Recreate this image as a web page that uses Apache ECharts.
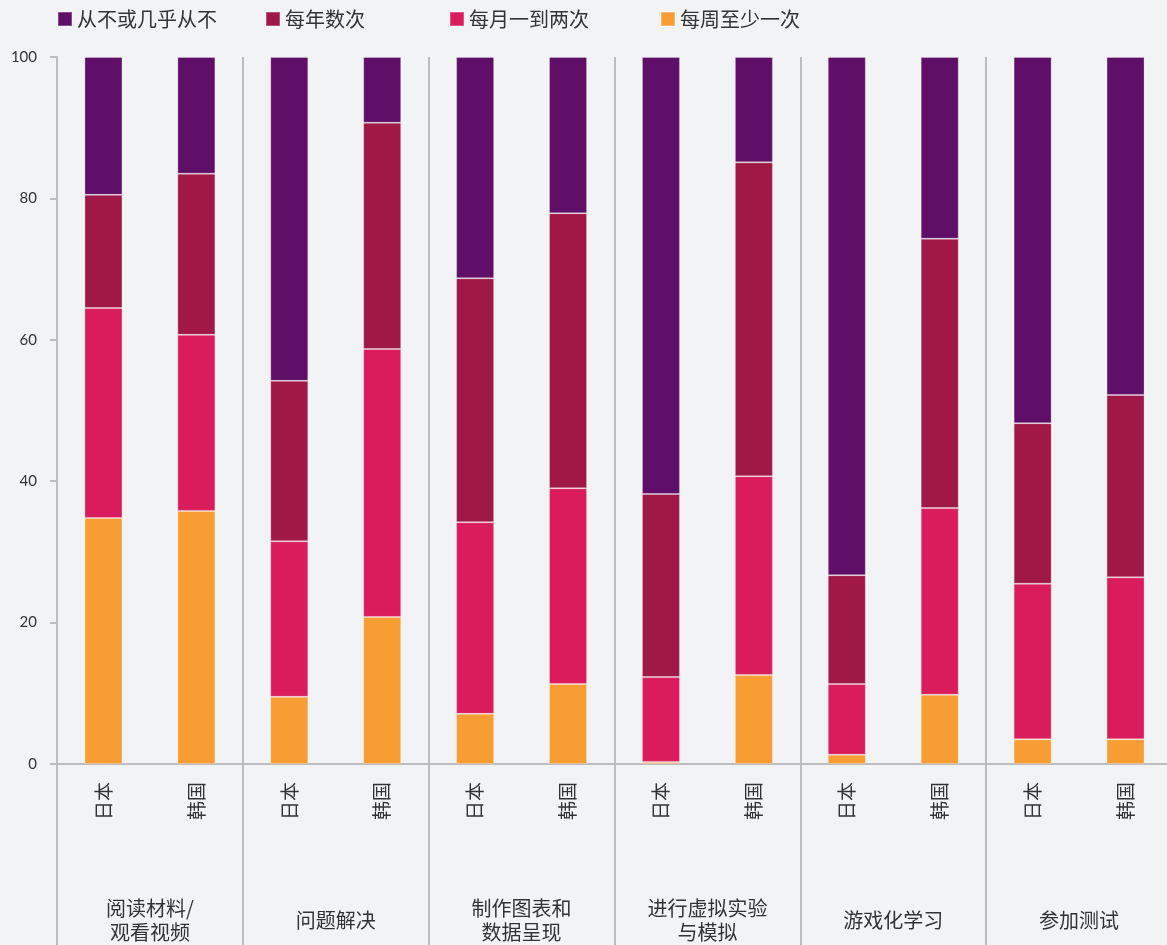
<!DOCTYPE html>
<html>
<head>
<meta charset="utf-8">
<script src="https://cdn.jsdelivr.net/npm/echarts@6/dist/echarts.min.js"></script>
<style>
html,body{margin:0;padding:0;background:#F2F3F5;overflow:hidden;width:1167px;height:945px;}
#chart{width:1175px;height:945px;}
</style>
</head>
<body>
<div id="chart"></div>
<script>
const groups = ['阅读材料/\n观看视频', '问题解决', '制作图表和\n数据呈现', '进行虚拟实验\n与模拟', '游戏化学习', '参加测试'];
const countries = ['日本', '韩国'];
const seriesNames = ['从不或几乎从不', '每年数次', '每月一到两次', '每周至少一次'];
// values per bar: group order, 日本 then 韩国
const weekly  = [34.8, 35.8, 9.5, 20.8, 7.1, 11.3, 0.3, 12.6, 1.3, 9.8, 3.5, 3.5];
const monthly = [29.7, 24.9, 22.0, 37.9, 27.1, 27.7, 12.0, 28.1, 10.0, 26.4, 22.0, 22.9];
const yearly  = [16.0, 22.8, 22.7, 32.0, 34.5, 38.9, 25.9, 44.4, 15.4, 38.1, 22.7, 25.8];
const never   = [19.5, 16.5, 45.8, 9.3, 31.3, 22.1, 61.8, 14.9, 73.3, 25.7, 51.8, 47.8];
const yTicks = [0, 20, 40, 60, 80, 100];

const colors = {
  '从不或几乎从不': '#5F0F67',
  '每年数次': '#A01846',
  '每月一到两次': '#DA1C5C',
  '每周至少一次': '#F89C34'
};
const cats = [];
groups.forEach(() => countries.forEach(c => cats.push(c)));

const cjk = "'Noto Sans CJK SC', 'Noto Sans', sans-serif";
const gray = '#BBBDC0';

const legendLeft = [57, 265, 449, 660];
const legends = seriesNames.map((n, i) => ({
  show: true,
  data: [n],
  left: legendLeft[i],
  top: 9,
  padding: 0,
  itemWidth: 14,
  itemHeight: 14,
  itemGap: 0,
  icon: 'rect',
  textStyle: { fontFamily: cjk, fontSize: 20, color: '#333' }
}));

function mk(name, data) {
  return {
    name: name,
    type: 'bar',
    stack: 'all',
    xAxisIndex: 0,
    data: data,
    barWidth: 38,
    itemStyle: { color: colors[name], borderColor: 'rgba(255,255,255,0.25)', borderWidth: 1 },
    emphasis: { disabled: true }
  };
}

const option = {
  backgroundColor: '#F2F3F5',
  animation: false,
  legend: legends,
  grid: { left: 57, right: 3, top: 57, bottom: 181, containLabel: false, outerBoundsMode: 'none' },
  xAxis: [
    {
      type: 'category',
      data: cats,
      position: 'bottom',
      axisLine: { show: false },
      axisTick: { show: false },
      axisLabel: {
        interval: 0, rotate: 90, margin: 18,
        fontFamily: cjk, fontSize: 19, color: '#333'
      }
    },
    {
      type: 'category',
      data: groups,
      position: 'bottom',
      boundaryGap: true,
      axisLine: { show: true, lineStyle: { color: gray, width: 2 } },
      axisTick: { show: true, interval: 0, length: 181, lineStyle: { color: gray, width: 2 } },
      splitLine: { show: true, interval: 0, lineStyle: { color: gray, width: 2 } },
      axisLabel: {
        interval: 0, margin: 156, verticalAlign: 'middle', lineHeight: 24,
        fontFamily: cjk, fontSize: 20, color: '#333', align: 'center'
      }
    }
  ],
  yAxis: {
    type: 'value',
    min: yTicks[0], max: yTicks[yTicks.length - 1], interval: 20,
    axisLine: { show: true, lineStyle: { color: gray, width: 2 } },
    axisTick: { show: true, length: 7, lineStyle: { color: gray, width: 2 } },
    splitLine: { show: false },
    axisLabel: { margin: 20, fontFamily: "'Lato', 'Noto Sans', sans-serif", fontSize: 15, color: '#333' }
  },
  series: [
    mk('每周至少一次', weekly),
    mk('每月一到两次', monthly),
    mk('每年数次', yearly),
    mk('从不或几乎从不', never)
  ]
};

const chart = echarts.init(document.getElementById('chart'), null, { renderer: 'canvas' });
chart.setOption(option);
</script>
</body>
</html>
